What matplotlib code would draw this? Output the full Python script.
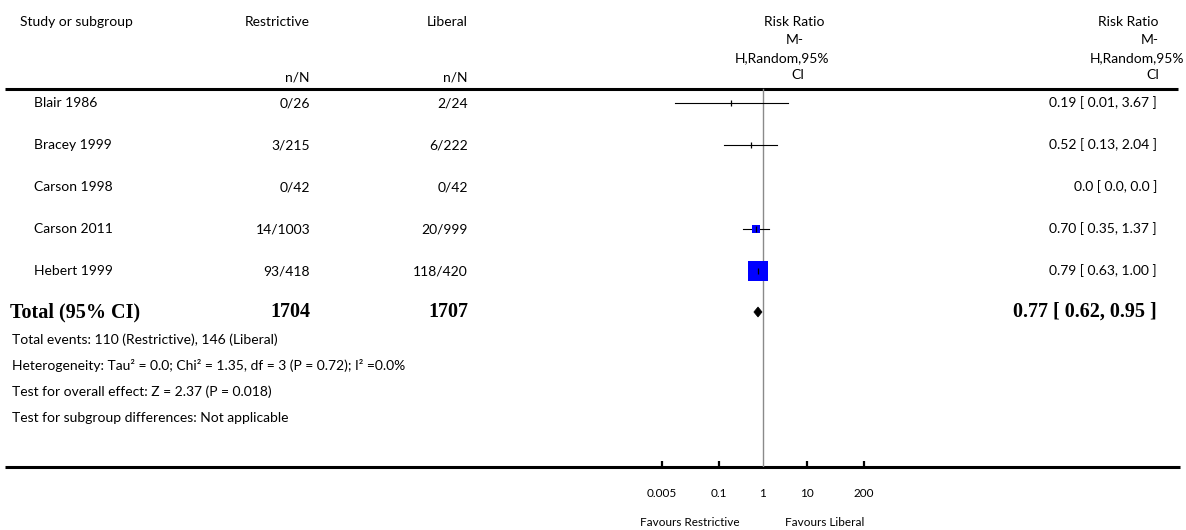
"""
Forest plot: restrictive vs liberal transfusion, Risk Ratio (M-H, Random, 95% CI).
"""
import numpy as np
import matplotlib
matplotlib.use("Agg")
import matplotlib.pyplot as plt
from matplotlib.patches import Polygon

# ---------- dados ----------
studies = ["Blair 1986", "Bracey 1999", "Carson 1998", "Carson 2011", "Hebert 1999"]
restr_events = [0, 3, 0, 14, 93]
restr_total = [26, 215, 42, 1003, 418]
lib_events = [2, 6, 0, 20, 118]
lib_total = [24, 222, 42, 999, 420]
rr = [0.19, 0.52, None, 0.70, 0.79]
rr_lo = [0.01, 0.13, None, 0.35, 0.63]
rr_hi = [3.67, 2.04, None, 1.37, 1.00]
rr_text = ["0.19 [ 0.01, 3.67 ]", "0.52 [ 0.13, 2.04 ]", "0.0 [ 0.0, 0.0 ]",
           "0.70 [ 0.35, 1.37 ]", "0.79 [ 0.63, 1.00 ]"]
weights = [1.0, 2.0, 0.0, 14.0, 82.0]

total_restr = 1704
total_lib = 1707
total_rr, total_lo, total_hi = 0.77, 0.62, 0.95
total_text = "0.77 [ 0.62, 0.95 ]"

footnotes = [
    "Total events: 110 (Restrictive), 146 (Liberal)",
    "Heterogeneity: Tau² = 0.0; Chi² = 1.35, df = 3 (P = 0.72); I² =0.0%",
    "Test for overall effect: Z = 2.37 (P = 0.018)",
    "Test for subgroup differences: Not applicable",
]
tick_values = [0.005, 0.1, 1, 10, 200]
tick_labels = ["0.005", "0.1", "1", "10", "200"]

# ---------- layout (pixels) ----------
W, H = 1186, 530
SANS = "Lato"
SERIF = "Liberation Serif"
FS = 10
FS_BOLD = 14.5
row_y = [103 + 42 * i for i in range(len(studies))]
total_y = 312
foot_y = [340, 366, 392, 418]
axis_y = 467
x_one, px_dec = 763, 44          # pixel of RR=1 and pixels per decade
f_left, f_right = 600, 930

fig = plt.figure(figsize=(W / 100, H / 100), dpi=100)
bg = fig.add_axes([0, 0, 1, 1])
bg.set_xlim(0, W)
bg.set_ylim(H, 0)
bg.axis("off")

# headers
bg.text(20, 22, "Study or subgroup", fontsize=FS, family=SANS, va="center")
bg.text(310, 22, "Restrictive", fontsize=FS, family=SANS, va="center", ha="right")
bg.text(468, 22, "Liberal", fontsize=FS, family=SANS, va="center", ha="right")
bg.text(310, 77, "n/N", fontsize=FS, family=SANS, va="center", ha="right")
bg.text(468, 77, "n/N", fontsize=FS, family=SANS, va="center", ha="right")
for txt, x, y in [("Risk Ratio", 824, 22), ("M-", 804, 40),
                  ("H,Random,95%", 829, 58), ("CI", 804, 75),
                  ("Risk Ratio", 1159, 22), ("M-", 1159, 40),
                  ("H,Random,95%", 1184, 58), ("CI", 1159, 75)]:
    bg.text(x, y, txt, fontsize=FS, family=SANS, va="center", ha="right")

bg.plot([5, 1178], [89, 89], color="black", lw=2.2, solid_capstyle="butt")
bg.plot([5, 1180], [axis_y, axis_y], color="black", lw=2.2, solid_capstyle="butt")

# study rows
for i, name in enumerate(studies):
    y = row_y[i]
    bg.text(34, y, name, fontsize=FS, family=SANS, va="center")
    bg.text(310, y, f"{restr_events[i]}/{restr_total[i]}", fontsize=FS,
            family=SANS, va="center", ha="right")
    bg.text(468, y, f"{lib_events[i]}/{lib_total[i]}", fontsize=FS,
            family=SANS, va="center", ha="right")
    bg.text(1157, y, rr_text[i], fontsize=FS, family=SANS, va="center", ha="right")

# total row
bg.text(10, total_y, "Total (95% CI)", fontsize=FS_BOLD, family=SERIF,
        weight="bold", va="center")
bg.text(310, total_y, str(total_restr), fontsize=FS_BOLD, family=SERIF,
        weight="bold", va="center", ha="right")
bg.text(468, total_y, str(total_lib), fontsize=FS_BOLD, family=SERIF,
        weight="bold", va="center", ha="right")
bg.text(1157, total_y, total_text, fontsize=FS_BOLD, family=SERIF,
        weight="bold", va="center", ha="right")

for txt, y in zip(footnotes, foot_y):
    bg.text(12, y, txt, fontsize=FS, family=SANS, va="center")

bg.text(740, 522, "Favours Restrictive", fontsize=8.5, family=SANS,
        va="center", ha="right")
bg.text(785, 522, "Favours Liberal", fontsize=8.5, family=SANS,
        va="center", ha="left")

# ---------- forest axes ----------
ax = fig.add_axes([f_left / W, (H - axis_y) / H, (f_right - f_left) / W, axis_y / H])
ax.patch.set_alpha(0)
ax.set_xscale("log")
ax.set_xlim(10 ** ((f_left - x_one) / px_dec), 10 ** ((f_right - x_one) / px_dec))
ax.set_ylim(axis_y, 0)
for s in ax.spines.values():
    s.set_visible(False)
ax.set_yticks([])
ax.set_xticks(tick_values)
ax.set_xticklabels(tick_labels, family=SANS, fontsize=8.5)
ax.xaxis.set_minor_locator(matplotlib.ticker.NullLocator())
ax.tick_params(axis="x", direction="in", length=4, width=1.6, pad=15)
ax.xaxis.get_major_ticks()[2].tick1line.set_visible(False)

ax.plot([1, 1], [89, axis_y], color="#8a8a8a", lw=1.0, zorder=1)

for i in range(len(studies)):
    if rr[i] is None:
        continue
    y = row_y[i]
    ax.plot([rr_lo[i], rr_hi[i]], [y, y], color="black", lw=0.8, zorder=2)
    side_pt = 2.12 * np.sqrt(weights[i]) * 0.72
    if side_pt > 3:
        ax.plot([rr[i]], [y], marker="s", ms=side_pt, color="#0000ff",
                markeredgewidth=0, linestyle="none", zorder=3)
    ax.plot([rr[i]], [y], marker="|", ms=4.5, mew=0.9, color="black",
            linestyle="none", zorder=4)

diamond = Polygon([(total_lo, total_y), (total_rr, total_y - 5),
                   (total_hi, total_y), (total_rr, total_y + 5)],
                  closed=True, facecolor="black", edgecolor="black", lw=0.5, zorder=3)
ax.add_patch(diamond)

fig.savefig("out.png", dpi=100)
